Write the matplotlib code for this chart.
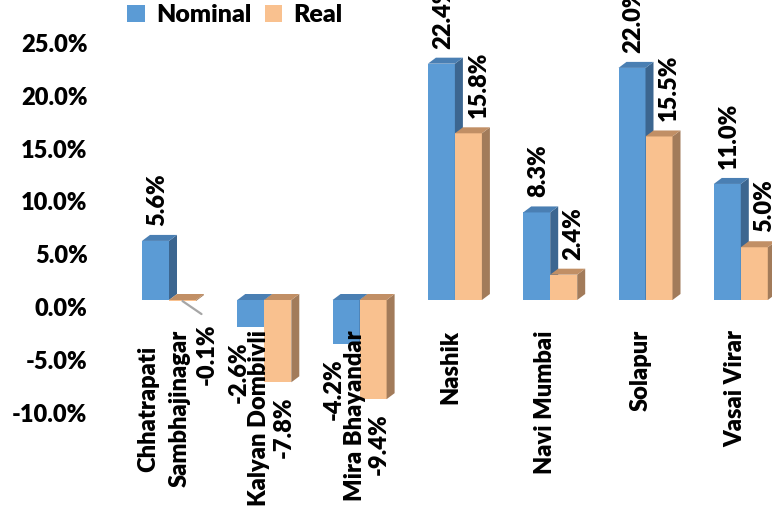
import matplotlib
matplotlib.use("Agg")
import matplotlib.pyplot as plt
from matplotlib.patches import Polygon, Patch
from matplotlib.transforms import ScaledTranslation
import numpy as np

categories = ["Chhatrapati\nSambhajinagar", "Kalyan Dombivli", "Mira Bhayandar",
              "Nashik", "Navi Mumbai", "Solapur", "Vasai Virar"]
nominal = [5.6, -2.6, -4.2, 22.4, 8.3, 22.0, 11.0]
real = [-0.1, -7.8, -9.4, 15.8, 2.4, 15.5, 5.0]
yticks = [-10, -5, 0, 5, 10, 15, 20, 25]
series_names = ["Nominal", "Real"]

FONT = "Lato"
FS = 17
WT = "heavy"
plt.rcParams['font.family'] = [FONT, 'DejaVu Sans']

W, H = 772, 519
fig = plt.figure(figsize=(W / 100, H / 100), dpi=100)
left_px = 100
ax = fig.add_axes([left_px / W, 0, 1 - left_px / W, 1])

PX_X = 95.3     # px per category
PX_Y = 10.55    # px per 1%
X0 = 169        # px of first group centre
Y0 = 300        # px (from top) of zero line
ax.set_xlim((left_px - X0) / PX_X, (W - X0) / PX_X)
ax.set_ylim((Y0 - H) / PX_Y, Y0 / PX_Y)

w = 27 / PX_X
ddx = 8 / PX_X
ddy = 6 / PX_Y

styles = [
    dict(front="#5B9BD5", side="#3C6690", top="#4A7FB3"),
    dict(front="#F9C18F", side="#A27B5A", top="#C18F65"),
]

x = np.arange(len(categories))
for s, vals in enumerate([nominal, real]):
    st = styles[s]
    xs = x + (s - 0.5) * w
    bars = ax.bar(xs, vals, width=w, color=st["front"], edgecolor="none", zorder=2)
    for rect in bars:
        x0 = rect.get_x()
        x1 = x0 + rect.get_width()
        y0 = rect.get_y()
        hh = rect.get_height()
        top = max(y0, y0 + hh)
        bot = min(y0, y0 + hh)
        ax.add_patch(Polygon([(x1, bot), (x1 + ddx, bot + ddy), (x1 + ddx, top + ddy), (x1, top)],
                             closed=True, facecolor=st["side"], edgecolor="none", zorder=2))
        ax.add_patch(Polygon([(x0, top), (x0 + ddx, top + ddy), (x1 + ddx, top + ddy), (x1, top)],
                             closed=True, facecolor=st["top"], edgecolor="none", zorder=2))

# data labels
pos_dx = [1.5, 10]
neg_dx = [-12, 5.5]
for s, vals in enumerate([nominal, real]):
    xs = x + (s - 0.5) * w
    for i, v in enumerate(vals):
        lab = f"{v:.1f}%"
        if v >= 0:
            ax.annotate(lab, xy=(xs[i], v), xytext=(pos_dx[s], 15), textcoords="offset pixels",
                        rotation=90, ha="center", va="bottom", fontsize=FS, fontweight=WT,
                        zorder=5)
        elif abs(v) < 0.5:
            ax.annotate("", xy=(xs[i], v), xytext=(19, -13), textcoords="offset pixels",
                        arrowprops=dict(arrowstyle="-", color="#A6A6A6", lw=1.6,
                                        shrinkA=0, shrinkB=0), zorder=4)
            ax.annotate(lab, xy=(xs[i], v), xytext=(24.5, -22), textcoords="offset pixels",
                        rotation=90, ha="center", va="top", fontsize=FS, fontweight=WT,
                        zorder=5)
        else:
            ax.annotate(lab, xy=(xs[i], v), xytext=(neg_dx[s], -14), textcoords="offset pixels",
                        rotation=90, ha="center", va="top", fontsize=FS, fontweight=WT,
                        zorder=5)

# category labels
for i, c in enumerate(categories):
    ax.annotate(c, xy=(x[i], 0), xytext=(-5, -30), textcoords="offset pixels",
                rotation=90, ha="center", va="top", multialignment="center",
                linespacing=1.55, fontsize=FS, fontweight=WT, zorder=6)

# y axis
ax.set_yticks(yticks)
ax.set_yticklabels([f"{t:.1f}%" for t in yticks], fontsize=FS, fontweight=WT)
ax.tick_params(axis="y", length=0, pad=9)
off = ScaledTranslation(0, -7 / 100, fig.dpi_scale_trans)
for lbl in ax.get_yticklabels():
    lbl.set_transform(lbl.get_transform() + off)
ax.set_xticks([])
for sp in ax.spines.values():
    sp.set_visible(False)
ax.patch.set_alpha(0)

handles = [Patch(facecolor=styles[0]["front"], edgecolor="none", label=series_names[0]),
           Patch(facecolor=styles[1]["front"], edgecolor="none", label=series_names[1])]
fig.legend(handles=handles, loc="upper left", bbox_to_anchor=(127 / W, 1 - 4 / H),
           ncol=2, frameon=False, prop=dict(weight=WT, size=FS + 1),
           handlelength=0.7, handleheight=0.7, handletextpad=0.45, columnspacing=0.55,
           borderpad=0, borderaxespad=0)

fig.savefig("out.png", dpi=100)
